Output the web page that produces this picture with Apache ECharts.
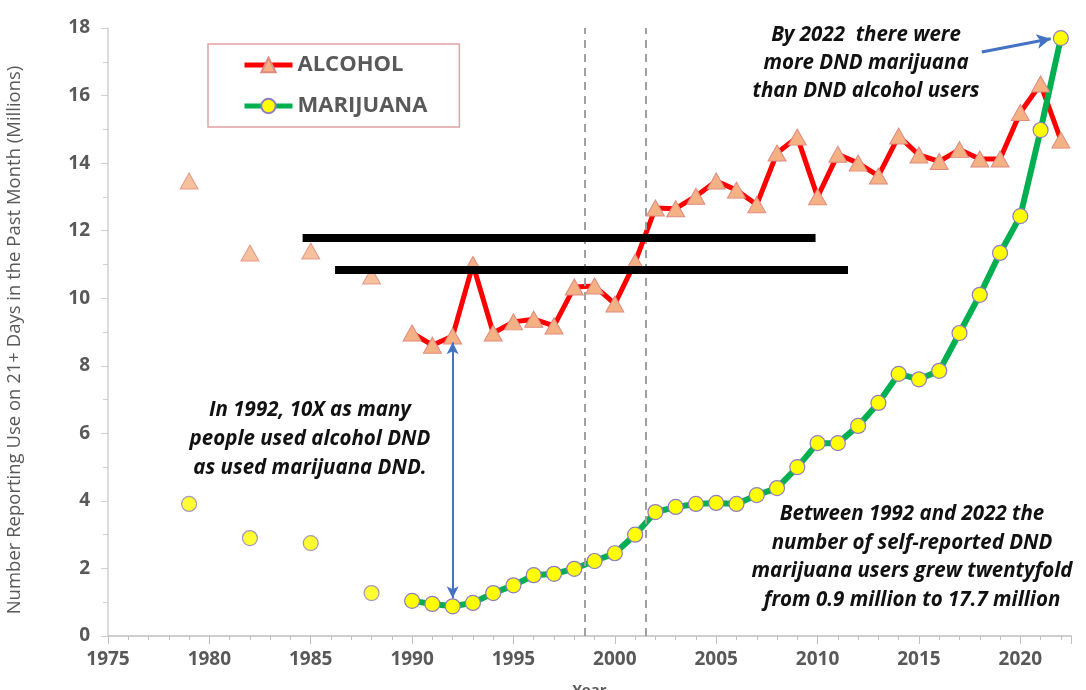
<!DOCTYPE html>
<html>
<head>
    <meta charset="UTF-8">
    <title>Alcohol vs Marijuana DND users</title>
    <script src="https://cdn.jsdelivr.net/npm/echarts@6.0.0/dist/echarts.min.js"></script>
    <style>
        html, body {margin: 0; padding: 0; background: #fff;}
        #chart {width: 1086px; height: 690px;}
    </style>
</head>
<body>
    <div id="chart"></div>

    <script>
        // survey years
        const years = [1979, 1982, 1985, 1988,
            1990, 1991, 1992, 1993, 1994, 1995, 1996, 1997, 1998, 1999,
            2000, 2001, 2002, 2003, 2004, 2005, 2006, 2007, 2008, 2009,
            2010, 2011, 2012, 2013, 2014, 2015, 2016, 2017, 2018, 2019,
            2020, 2021, 2022];

        // millions, daily or near-daily users
        const alcohol = [13.47, 11.34, 11.4, 10.66,
            8.97, 8.61, 8.88, 11.0, 8.97, 9.3, 9.38, 9.18, 10.33, 10.36,
            9.83, 11.07, 12.67, 12.65, 13.02, 13.47, 13.2, 12.77, 14.3, 14.77,
            13.0, 14.26, 14.0, 13.62, 14.8, 14.24, 14.05, 14.4, 14.12, 14.12,
            15.5, 16.34, 14.68];

        const marijuana = [3.91, 2.9, 2.75, 1.27,
            1.04, 0.95, 0.88, 0.98, 1.27, 1.5, 1.8, 1.84, 1.99, 2.22,
            2.45, 3.0, 3.67, 3.82, 3.91, 3.94, 3.91, 4.17, 4.38, 5.0,
            5.71, 5.71, 6.22, 6.9, 7.76, 7.6, 7.85, 8.97, 10.1, 11.34,
            12.43, 14.98, 17.7];

        // first year of the connected yearly series
        const lineStart = 1990;

        // dashed vertical markers (survey redesigns)
        const dashedYears = [1998.5, 2001.5];

        // black bars: [x1, x2, y]
        const blackBars = [[1984.6, 2009.9, 11.78], [1986.2, 2011.5, 10.83]];

        // blue arrows: [[x1, y1], [x2, y2]]
        const arrow1992 = [[1992, 8.7], [1992, 1.12]];
        const arrow2022 = [[2018.1, 17.29], [2021.5, 17.68]];

        const pairs = vals => years.map((y, i) => [y, vals[i]]);
        const early = vals => pairs(vals).filter(p => p[0] < lineStart);
        const late = vals => pairs(vals).filter(p => p[0] >= lineStart);

        const labelFont = '"Open Sans", sans-serif';
        const noteFont = 'italic bold 20.5px "Open Sans", sans-serif';
        const grey = '#595959';

        const triStyle = {color: '#F4B183', borderColor: '#E08A80', borderWidth: 1};
        const dotStyle = {color: '#FFFF00', borderColor: '#8E7CC3', borderWidth: 1.2};

        const chart = echarts.init(document.getElementById('chart'));
        chart.setOption({
            animation: false,
            grid: {left: 108, right: 15, top: 28, bottom: 54, containLabel: false, outerBoundsMode: 'none'},
            legend: {
                data: ['ALCOHOL', 'MARIJUANA'],
                orient: 'vertical',
                left: 208, top: 44,
                padding: [10, 32, 10, 34],
                itemGap: 19,
                itemWidth: 48, itemHeight: 18,
                borderColor: '#E2A3A3', borderWidth: 1.5,
                lineStyle: {width: 5},
                textStyle: {fontFamily: labelFont, fontSize: 22, fontWeight: 'bold', color: grey}
            },
            xAxis: {
                type: 'value',
                min: 1975, max: 2022.5, interval: 5,
                name: 'Year', nameLocation: 'middle', nameGap: 47,
                nameTextStyle: {fontFamily: labelFont, fontSize: 15, color: grey, fontWeight: 'bold'},
                axisLine: {lineStyle: {color: '#BFBFBF', width: 1.5}},
                axisTick: {length: 8, lineStyle: {color: '#BFBFBF'}},
                minorTick: {show: true, splitNumber: 5, length: 4, lineStyle: {color: '#BFBFBF'}},
                splitLine: {show: false},
                axisLabel: {
                    margin: 14, showMaxLabel: false,
                    fontFamily: labelFont, fontSize: 19, fontWeight: 'bold', color: grey,
                    formatter: v => String(v)
                }
            },
            yAxis: {
                type: 'value',
                min: 0, max: 18, interval: 2,
                name: 'Number Reporting Use on 21+ Days in the Past Month (Millions)',
                nameLocation: 'middle', nameGap: 84,
                nameTextStyle: {fontFamily: labelFont, fontSize: 18.5, color: grey, padding: [0, 16, 0, 0]},
                axisLine: {show: true, lineStyle: {color: '#D0D0D0', width: 1.5}},
                axisTick: {show: true, length: 7, lineStyle: {color: '#D0D0D0'}},
                minorTick: {show: true, splitNumber: 2, length: 5, lineStyle: {color: '#D0D0D0'}},
                splitLine: {show: false},
                axisLabel: {margin: 18, fontFamily: labelFont, fontSize: 19, fontWeight: 'bold', color: grey}
            },
            series: [
                {
                    name: 'ALCOHOL',
                    type: 'line',
                    data: late(alcohol),
                    symbol: 'triangle',
                    symbolSize: [18, 16],
                    showAllSymbol: true,
                    lineStyle: {color: '#FF0000', width: 5},
                    itemStyle: triStyle,
                    z: 3
                },
                {
                    name: 'MARIJUANA',
                    type: 'line',
                    data: late(marijuana),
                    symbol: 'circle',
                    symbolSize: 15,
                    showAllSymbol: true,
                    lineStyle: {color: '#00B050', width: 6},
                    itemStyle: dotStyle,
                    z: 3
                },
                {
                    name: 'alcohol early',
                    type: 'scatter',
                    data: early(alcohol),
                    symbol: 'triangle',
                    symbolSize: [18, 16],
                    itemStyle: triStyle,
                    z: 3
                },
                {
                    name: 'marijuana early',
                    type: 'scatter',
                    data: early(marijuana),
                    symbol: 'circle',
                    symbolSize: 15,
                    itemStyle: dotStyle,
                    z: 3
                },
                {
                    // dashed verticals
                    name: 'dashed',
                    type: 'scatter',
                    data: [],
                    z: 2,
                    markLine: {
                        silent: true,
                        symbol: ['none', 'none'],
                        label: {show: false},
                        lineStyle: {color: '#A0A0A0', type: [8, 6], width: 2},
                        data: dashedYears.map(x => ({xAxis: x}))
                    }
                },
                {
                    // black bars and blue arrows
                    name: 'notes',
                    type: 'scatter',
                    data: [],
                    z: 5,
                    markLine: {
                        silent: true,
                        symbol: ['none', 'none'],
                        label: {show: false},
                        data: [
                            ...blackBars.map(b => [
                                {coord: [b[0], b[2]], lineStyle: {color: '#000', width: 8, type: 'solid'}},
                                {coord: [b[1], b[2]]}
                            ]),
                            [
                                {coord: arrow1992[0], symbol: 'arrow', symbolSize: [9, 12],
                                    lineStyle: {color: '#4472C4', width: 2, type: 'solid'}},
                                {coord: arrow1992[1], symbol: 'arrow', symbolSize: [9, 12]}
                            ],
                            [
                                {coord: arrow2022[0], symbol: 'none',
                                    lineStyle: {color: '#4472C4', width: 3, type: 'solid'}},
                                {coord: arrow2022[1], symbol: 'arrow', symbolSize: [11, 14]}
                            ]
                        ]
                    }
                }
            ],
            graphic: [
                {
                    type: 'text',
                    style: {
                        x: 310, y: 396,
                        text: 'In 1992, 10X as many\npeople used alcohol DND\nas used marijuana DND.',
                        textAlign: 'center', font: noteFont,
                        lineHeight: 29, fill: '#111'
                    }
                },
                {
                    type: 'text',
                    style: {
                        x: 866, y: 21,
                        text: 'By 2022  there were\nmore DND marijuana\nthan DND alcohol users',
                        textAlign: 'center', font: noteFont,
                        lineHeight: 28, fill: '#111'
                    }
                },
                {
                    type: 'text',
                    style: {
                        x: 912, y: 500,
                        text: 'Between 1992 and 2022 the\nnumber of self-reported DND\nmarijuana users grew twentyfold\nfrom 0.9 million to 17.7 million',
                        textAlign: 'center', font: noteFont,
                        lineHeight: 28.5, fill: '#111'
                    }
                }
            ]
        });
    </script>
</body>
</html>
